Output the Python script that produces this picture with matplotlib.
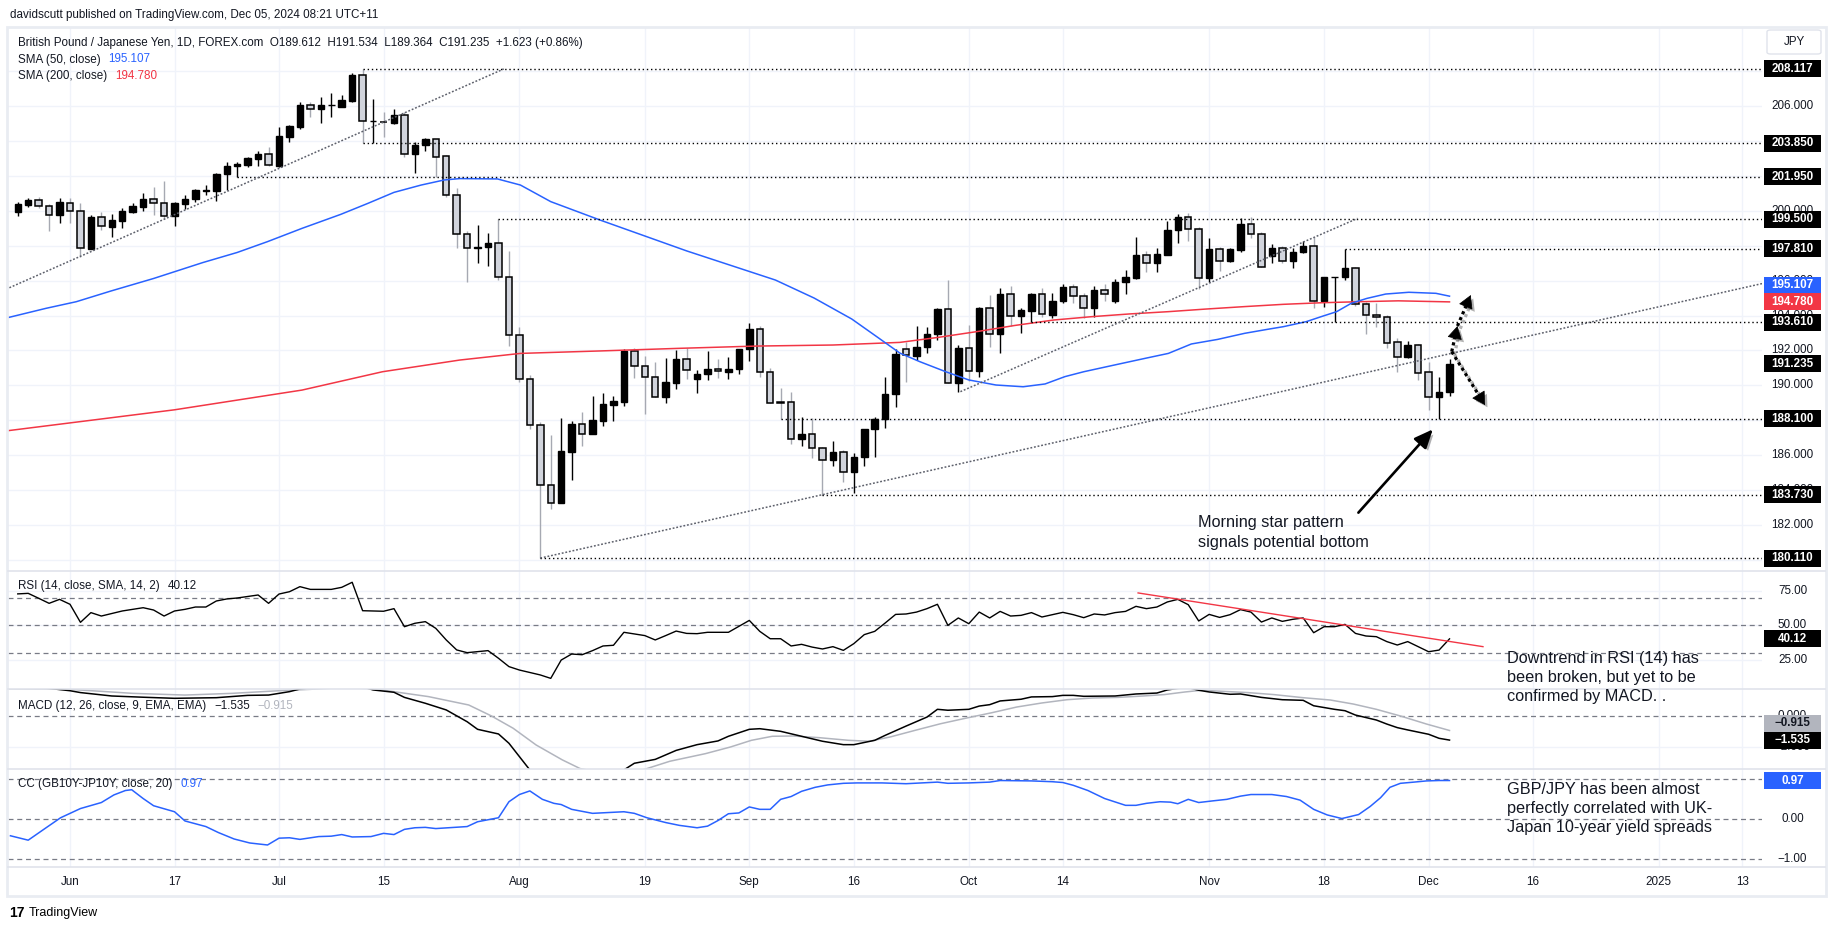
import numpy as np
import pandas as pd
import matplotlib
matplotlib.use("Agg")
import matplotlib.pyplot as plt
import matplotlib.patheffects as pe
from matplotlib.patches import Rectangle, FancyBboxPatch

plt.rcParams['font.family'] = ['Liberation Sans', 'DejaVu Sans']

# ---------------- data (GBP/JPY, 1D, FOREX.com) ----------------
start_date = "2024-05-27"

opens = [199.95, 200.35, 200.59, 200.27, 199.74, 200.46, 199.97, 197.83, 199.62, 199.09,
         199.43, 199.95, 200.23, 200.65, 200.42, 199.68, 200.40, 200.65, 201.15, 201.15,
         202.10, 202.54, 202.62, 202.98, 203.23, 202.56, 204.24, 204.81, 206.05, 205.81,
         206.05, 205.96, 206.30, 207.77, 205.12, 205.08, 205.04, 205.48, 203.23, 203.76,
         204.09, 203.12, 200.88, 198.65, 197.84, 197.90, 198.13, 196.18, 192.86, 190.34,
         187.71, 184.27, 183.24, 186.20, 187.77, 187.19, 187.97, 188.89, 189.06, 191.97,
         191.11, 190.50, 189.35, 190.15, 191.49, 190.34, 190.63, 190.92, 190.78, 190.92,
         192.06, 193.21, 190.78, 189.05, 189.06, 186.91, 187.19, 186.39, 185.70, 186.16,
         185.02, 185.88, 187.48, 188.05, 189.48, 192.06, 191.70, 192.18, 192.92, 194.35,
         190.11, 192.16, 190.82, 194.41, 192.92, 195.21, 193.97, 194.28, 195.23, 194.03,
         194.85, 195.61, 195.12, 194.41, 195.46, 194.81, 195.90, 196.13, 197.46, 197.03,
         197.46, 198.90, 199.62, 198.93, 196.13, 197.79, 197.12, 197.75, 199.22, 198.65,
         197.41, 197.85, 197.14, 197.62, 197.98, 194.85, 196.19, 196.19, 196.70, 194.66,
         194.03, 193.93, 192.46, 191.64, 192.31, 190.74, 189.35, 189.612]
highs = [200.52, 200.75, 200.80, 200.38, 200.75, 200.75, 200.46, 199.75, 199.95, 199.83,
         200.14, 200.42, 201.00, 201.38, 201.70, 200.52, 200.90, 201.22, 201.45, 202.18,
         202.77, 202.79, 203.10, 203.44, 203.63, 204.81, 204.91, 206.23, 206.25, 206.53,
         206.72, 206.63, 207.87, 208.117, 206.40, 205.67, 205.83, 205.67, 203.95, 204.15,
         204.09, 203.19, 201.28, 198.86, 199.18, 198.70, 199.50, 197.71, 193.36, 190.59,
         187.92, 187.16, 188.14, 187.96, 188.45, 189.39, 189.58, 189.39, 192.08, 192.12,
         191.68, 191.32, 191.55, 192.02, 192.12, 190.88, 191.97, 191.49, 191.60, 192.06,
         193.55, 193.40, 190.97, 189.87, 189.60, 188.17, 188.15, 186.49, 186.81, 186.29,
         186.11, 187.48, 188.20, 190.46, 192.06, 192.50, 193.40, 193.36, 194.45, 196.03,
         192.31, 193.45, 194.50, 195.19, 195.56, 195.69, 194.41, 195.31, 195.56, 195.31,
         195.80, 195.80, 195.31, 195.69, 195.80, 196.09, 196.61, 198.48, 197.69, 197.89,
         199.41, 199.79, 199.85, 199.09, 198.42, 197.94, 197.85, 199.56, 199.66, 198.80,
         198.09, 197.98, 197.85, 198.29, 198.48, 196.22, 196.22, 197.81, 196.76, 194.79,
         194.70, 194.03, 192.69, 192.54, 192.35, 191.36, 190.50, 191.534]
lows = [199.72, 200.23, 200.14, 198.86, 199.32, 199.32, 197.37, 197.79, 198.90, 198.48,
        199.03, 199.85, 200.00, 199.76, 199.51, 199.14, 200.08, 200.52, 200.90, 200.58,
        201.19, 201.95, 202.52, 202.56, 202.56, 202.52, 203.96, 204.68, 205.39, 205.04,
        205.39, 205.92, 206.25, 203.85, 203.90, 204.24, 204.95, 203.10, 202.14, 203.44,
        201.95, 200.80, 197.88, 195.94, 197.02, 196.85, 196.03, 192.27, 190.21, 187.48,
        180.11, 182.94, 183.24, 184.58, 186.54, 187.19, 187.69, 187.97, 188.84, 190.44,
        188.34, 189.35, 189.01, 189.77, 190.36, 189.58, 190.30, 190.40, 190.34, 190.63,
        191.41, 190.46, 189.01, 188.10, 186.64, 186.54, 185.82, 183.73, 185.40, 184.48,
        183.81, 185.40, 185.91, 187.54, 188.78, 190.21, 191.45, 191.87, 192.60, 190.11,
        189.64, 190.25, 190.50, 192.21, 191.83, 193.40, 192.98, 193.61, 193.93, 193.88,
        194.73, 194.73, 193.84, 193.93, 194.85, 194.70, 195.23, 196.09, 196.51, 196.51,
        197.46, 198.13, 198.27, 195.50, 195.94, 196.57, 197.08, 197.66, 198.42, 196.76,
        197.03, 197.03, 196.74, 197.56, 194.41, 194.51, 193.61, 196.03, 194.54, 192.94,
        193.36, 192.12, 190.78, 191.55, 190.31, 188.59, 188.10, 189.364]
closes = [200.39, 200.61, 200.25, 199.74, 200.50, 199.97, 197.84, 199.64, 199.11, 199.45,
          199.97, 200.27, 200.65, 200.42, 199.68, 200.46, 200.65, 201.19, 201.19, 202.10,
          202.56, 202.66, 203.00, 203.25, 202.60, 204.28, 204.85, 206.05, 205.81, 206.05,
          206.07, 206.34, 207.77, 205.12, 205.14, 205.06, 205.48, 203.23, 203.76, 204.09,
          203.10, 200.88, 198.65, 197.84, 197.90, 198.17, 196.18, 192.86, 190.34, 187.71,
          184.27, 183.24, 186.24, 187.78, 187.19, 188.01, 188.93, 189.10, 191.97, 191.11,
          190.50, 189.35, 190.19, 191.49, 190.88, 190.63, 190.92, 190.80, 190.92, 192.06,
          193.21, 190.78, 189.01, 189.01, 186.91, 187.21, 186.39, 185.70, 186.16, 185.02,
          185.88, 187.48, 188.05, 189.48, 191.77, 191.74, 192.18, 192.92, 194.38, 190.11,
          192.16, 190.80, 194.43, 192.92, 195.21, 193.95, 194.31, 195.22, 194.10, 194.85,
          195.61, 195.12, 194.41, 195.46, 195.21, 195.94, 196.22, 197.46, 197.03, 197.52,
          198.90, 199.62, 198.93, 196.13, 197.79, 197.14, 197.79, 199.22, 198.65, 196.80,
          197.85, 197.14, 197.62, 197.98, 194.85, 196.19, 196.22, 196.70, 194.66, 194.01,
          193.89, 192.44, 191.64, 192.31, 190.69, 189.35, 189.612, 191.235]

sma50_day = [-1, 2.7, 5.6, 8.9, 13, 17.7, 21, 23.9, 27.2, 30.9, 33.5, 36, 38.6, 40.8, 42.3, 45.9,
             48.1, 51, 55.7, 64, 72.5, 76.2, 79.8, 82.4, 84.4, 86.3, 88.8, 91, 93.6, 96.2, 98.3,
             100.2, 102, 104.9, 107.9, 110.1, 112.3, 114.8, 117.4, 119.6, 121.1, 123.3, 124.7,
             126.2, 127.6, 129.1, 130.9, 133.1, 135.7, 137]
sma50_val = [193.87, 194.41, 194.79, 195.40, 196.12, 197.03, 197.61, 198.23, 198.99, 199.79,
             200.42, 201.05, 201.47, 201.76, 201.84, 201.82, 201.47, 200.52, 199.47, 197.7,
             196.03, 195.0, 193.8, 192.7, 191.85, 191.36, 190.78, 190.31, 190.02, 189.92, 190.08,
             190.50, 190.78, 191.16, 191.55, 191.83, 192.37, 192.63, 192.98, 193.21, 193.36,
             193.65, 193.93, 194.22, 194.70, 194.98, 195.23, 195.33, 195.27, 195.107]
sma200_day = [-1, 15, 27.2, 34.9, 42.3, 48.1, 55.7, 63.3, 70.7, 78, 84.4, 88.1, 91.8, 95.4, 99.1,
              102.7, 106.4, 110.1, 113.7, 117.4, 121.1, 124.7, 128.4, 132.1, 137]
sma200_val = [187.4, 188.6, 189.73, 190.78, 191.45, 191.83, 191.97, 192.12, 192.25, 192.31,
              192.46, 192.75, 193.08, 193.43, 193.74, 193.93, 194.09, 194.22, 194.37, 194.51,
              194.64, 194.73, 194.79, 194.84, 194.78]

rsi_day = [0, 1, 2, 3, 4, 5, 6, 7, 8, 10, 12, 13, 14, 15, 16, 17, 18, 19, 20, 21, 23, 24, 25, 26,
           27, 28, 30, 31, 32, 33, 35, 36, 37, 38, 39, 40, 41, 42, 43, 45, 46, 47, 48, 50, 51, 52,
           53, 54, 55, 56, 57, 58, 60, 61, 62, 63, 64, 65, 66, 68, 70, 71, 72, 73, 74, 75, 76, 77,
           78, 79, 80, 81, 82, 83, 84, 85, 86, 87, 88, 89, 90, 91, 92, 93, 94, 95, 96, 97, 98, 99,
           100, 101, 102, 103, 104, 105, 106, 107, 108, 109, 110, 111, 112, 113, 114, 115, 116,
           117, 118, 119, 120, 121, 122, 123, 124, 125, 126, 127, 128, 129, 130, 131, 132, 133,
           134, 135, 136, 137]
rsi_val = [73.0, 73.4, 69.8, 66.1, 69.0, 65.4, 52.2, 59.3, 56.8, 60.5, 62.9, 61.2, 56.8, 60.5,
           61.7, 63.4, 63.4, 67.8, 69.3, 70.0, 72.2, 66.1, 72.9, 74.6, 78.3, 76.3, 76.3, 77.8,
           81.5, 60.7, 60.3, 62.2, 49.0, 51.5, 52.7, 47.8, 39.3, 32.0, 30.0, 31.5, 25.9, 19.8,
           17.3, 13.7, 11.2, 24.6, 29.0, 28.5, 31.5, 34.9, 35.4, 44.9, 42.5, 39.3, 42.5, 45.8,
           44.1, 43.9, 44.9, 44.9, 53.6, 45.6, 40.2, 40.2, 34.9, 36.1, 34.1, 32.7, 34.4, 31.7,
           36.6, 43.2, 45.6, 51.7, 58.0, 58.3, 59.7, 62.2, 65.4, 50.0, 55.4, 51.2, 59.7, 55.4,
           60.2, 56.8, 57.3, 59.3, 56.1, 57.8, 59.5, 57.8, 55.6, 58.3, 57.6, 59.3, 60.2, 63.9,
           62.2, 63.4, 67.1, 69.0, 65.1, 53.2, 58.0, 55.8, 57.8, 61.5, 59.7, 52.4, 55.4, 52.9,
           54.4, 55.4, 44.6, 49.0, 49.0, 50.7, 44.1, 42.2, 41.7, 38.1, 35.6, 38.1, 34.4, 30.7,
           31.9, 40.12]
rsi_trend_day = [107.2, 140.2]
rsi_trend_val = [73.7, 34.4]

macd_day = [-1, 3, 5, 6, 9, 12, 15, 19, 22, 24, 26, 27, 30, 32, 34, 36, 37, 39, 41, 43, 44, 46,
            47, 48, 49, 51, 54, 56, 58, 59, 61, 63, 65, 67, 68, 70, 71, 73, 75, 77, 79, 80, 82,
            83, 85, 87, 88, 89, 91, 92, 93, 94, 96, 97, 99, 100, 101, 102, 105, 107, 109, 110,
            111, 112, 113, 114, 116, 117, 119, 121, 123, 124, 126, 127, 128, 130, 131, 132, 133,
            135, 136, 137]
macd_val = [1.95, 1.80, 1.65, 1.53, 1.31, 1.23, 1.16, 1.20, 1.35, 1.37, 1.59, 1.76, 2.0, 2.1,
            1.70, 1.55, 1.22, 0.84, 0.41, -0.35, -0.84, -1.14, -1.74, -2.60, -3.46, -4.3, -4.2,
            -3.8, -3.46, -3.03, -2.78, -2.2, -1.83, -1.59, -1.29, -0.84, -0.80, -0.97, -1.29,
            -1.61, -1.83, -1.83, -1.55, -1.23, -0.63, -0.05, 0.45, 0.39, 0.45, 0.66, 0.75, 0.99,
            1.10, 1.25, 1.27, 1.35, 1.35, 1.29, 1.31, 1.44, 1.50, 1.70, 1.80, 1.85, 1.68, 1.57,
            1.42, 1.44, 1.22, 1.07, 1.03, 0.68, 0.45, 0.36, 0.08, -0.24, -0.50, -0.73, -0.88,
            -1.16, -1.42, -1.535]
signal_day = [-1, 2.6, 5, 11, 16, 20.5, 25, 28, 31, 34, 36.7, 39.3, 43.15, 45.3, 47.4, 49.6,
              52.1, 53.8, 57, 59.8, 62.4, 65.8, 68.2, 70.2, 72.2, 74.2, 76.7, 79.5, 81.5, 83.5,
              85.9, 88.3, 90.8, 93.2, 95.6, 98, 100.4, 102.8, 105.3, 107.7, 109.7, 111.7, 113.3,
              115.3, 117.7, 120.2, 123, 125.6, 127.8, 130, 132.3, 134.8, 137]
signal_val = [1.78, 1.76, 1.74, 1.48, 1.37, 1.48, 1.65, 1.74, 1.85, 1.78, 1.52, 1.27, 0.73,
              0.03, -0.77, -1.85, -2.81, -3.37, -3.8, -3.46, -2.9, -2.41, -1.98, -1.55, -1.29,
              -1.27, -1.38, -1.55, -1.61, -1.33, -0.90, -0.48, -0.11, 0.23, 0.60, 0.86, 1.07,
              1.18, 1.22, 1.31, 1.40, 1.57, 1.68, 1.61, 1.53, 1.40, 1.20, 1.05, 0.79, 0.45, 0.02,
              -0.50, -0.915]

cc_day = [-0.7, 1, 2.6, 4.1, 6, 8, 9.2, 10.3, 10.9, 12, 13, 15, 16, 18, 19.2, 20.7, 22.2, 23.9,
          25, 26, 27, 28.8, 30, 31, 32, 33.8, 35, 36, 37, 38, 39, 40, 41.2, 43, 44, 46, 47, 48,
          49, 50.2, 51.3, 52, 53, 55, 58, 59, 60.2, 62, 63.3, 65, 66, 67, 68, 69, 70, 71, 72,
          73, 74, 75, 76.3, 77.5, 79, 80.3, 82.7, 85, 88, 89, 91, 93, 94, 97, 99, 100, 101,
          102.4, 104, 106, 107, 108, 109.3, 110.3, 111, 112, 113, 114.3, 115.7, 117, 118, 120,
          121.4, 122.7, 124, 125.3, 126.7, 128.3, 129.4, 130.4, 131.3, 132.3, 133.6, 134.8,
          136, 137]
cc_val = [-0.41, -0.52, -0.23, 0.04, 0.27, 0.42, 0.61, 0.72, 0.74, 0.52, 0.34, 0.19, -0.04,
          -0.18, -0.33, -0.49, -0.59, -0.64, -0.47, -0.46, -0.50, -0.43, -0.42, -0.38, -0.44,
          -0.43, -0.35, -0.38, -0.25, -0.21, -0.20, -0.23, -0.21, -0.18, -0.06, 0.04, 0.44,
          0.62, 0.71, 0.50, 0.40, 0.37, 0.25, 0.15, 0.19, 0.15, 0.04, -0.08, -0.15, -0.21,
          -0.17, -0.03, 0.14, 0.16, 0.31, 0.25, 0.25, 0.50, 0.57, 0.70, 0.80, 0.86, 0.90, 0.91,
          0.91, 0.89, 0.93, 0.90, 0.91, 0.93, 0.97, 0.96, 0.94, 0.92, 0.85, 0.72, 0.52, 0.35,
          0.35, 0.40, 0.44, 0.43, 0.39, 0.50, 0.42, 0.46, 0.50, 0.58, 0.62, 0.62, 0.57, 0.48,
          0.25, 0.11, 0.02, 0.12, 0.32, 0.54, 0.80, 0.90, 0.93, 0.96, 0.97, 0.97]

# horizontal support / resistance levels: (start day, price)
level_day = [33, 33, 21, 46, 127, 97, 73, 77, 50]
level_price = [208.117, 203.85, 201.95, 199.5, 197.81, 193.61, 188.1, 183.73, 180.11]

# trend lines
trend_days = [(-0.8, 46.5), (50, 167), (90.2, 128.2)]
trend_prices = [(195.59, 208.117), (180.11, 195.84), (189.64, 199.56)]

tick_dates = ['2024-06-03', '2024-06-17', '2024-07-01', '2024-07-15', '2024-08-01', '2024-08-19',
              '2024-09-02', '2024-09-16', '2024-10-01', '2024-10-14', '2024-11-01', '2024-11-18',
              '2024-12-02', '2024-12-16', '2025-01-01', '2025-01-13']
tick_labels = ['Jun', '17', 'Jul', '15', 'Aug', '19', 'Sep', '16', 'Oct', '14', 'Nov', '18',
               'Dec', '16', '2025', '13']

# ---------------- layout ----------------
W, H = 1835, 931
L, R = 8, 1762
XL = (-0.933, 166.9)
MAIN = (27, 571, 179.37, 210.52)
RSI = (571, 689, 3.42, 89.75)
MACD = (689, 768.7, -3.381, 1.761)
CC = (768.7, 867, -1.19, 1.265)
TXT = '#131722'
GRID = '#f0f3fa'
DASH = '#787b86'

fig = plt.figure(figsize=(W / 100, H / 100), dpi=100)
fig.patch.set_facecolor('white')
renderer = fig.canvas.get_renderer()

dates = pd.bdate_range(start_date, periods=180)
tick_pos = [dates.get_loc(pd.Timestamp(t)) for t in tick_dates]


def pane(p):
    top, bot, lo, hi = p
    ax = fig.add_axes([L / W, 1 - bot / H, (R - L) / W, (bot - top) / H])
    ax.set_xlim(XL)
    ax.set_ylim(lo, hi)
    ax.axis('off')
    for t in tick_pos:
        ax.axvline(t, color=GRID, lw=1, zorder=0)
    return ax


def ypx(p, v):
    top, bot, lo, hi = p
    return top + (hi - v) / (hi - lo) * (bot - top)


def ftext(x, y, s, **kw):
    kw.setdefault('color', TXT)
    kw.setdefault('fontsize', 8.4)
    kw.setdefault('va', 'center')
    return fig.text(x / W, 1 - y / H, s, **kw)


def legend_row(x, y, parts, gap=8):
    # parts: list of (text, colour); each placed right after the previous one
    for s, col in parts:
        t = ftext(x, y, s, color=col)
        x += t.get_window_extent(renderer).width + gap


def tag(p, v, s, fc='black', tc='white', shift=0):
    y = ypx(p, v) + shift
    fig.add_artist(Rectangle((1764 / W, 1 - (y + 8.5) / H), 57 / W, 17 / H,
                             transform=fig.transFigure, facecolor=fc, edgecolor='none', zorder=10))
    ftext(1792.5, y, s, color=tc, fontweight='bold', ha='center', zorder=11)


def tick(p, v, s):
    ftext(1792.5, ypx(p, v), s, ha='center', zorder=5)


# ---------------- main price pane ----------------
ax = pane(MAIN)
for g in range(180, 210, 2):
    ax.axhline(g, color=GRID, lw=1, zorder=0)

o, h, l, c = map(np.array, (opens, highs, lows, closes))
x = np.arange(len(o))
up = c >= o
lo_b = np.minimum(o, c)
hb = np.maximum(np.abs(c - o), 0.015)
ax.vlines(x[up], l[up], h[up], color='black', lw=1, zorder=2)
ax.vlines(x[~up], l[~up], h[~up], color='#a6a9b2', lw=1, zorder=2)
ax.bar(x[up], hb[up], 0.62, lo_b[up], color='black', edgecolor='black', lw=1, zorder=3)
ax.bar(x[~up], hb[~up], 0.62, lo_b[~up], color='#d1d4dc', edgecolor='black', lw=1.1, zorder=3)

ax.plot(sma200_day, sma200_val, color='#f23645', lw=1.1, zorder=4)
ax.plot(sma50_day, sma50_val, color='#2962ff', lw=1.1, zorder=4)

for d0, pr in zip(level_day, level_price):
    ax.hlines(pr, d0, XL[1], colors='black', linestyles=(0, (1, 2)), lw=1, zorder=4)
for (d0, d1), (p0, p1) in zip(trend_days, trend_prices):
    ax.plot([d0, d1], [p0, p1], color='#5d606b', ls=(0, (1.2, 1.2)), lw=1.1, zorder=4)

shadow_l = [pe.SimpleLineShadow(offset=(2, -2), alpha=0.3), pe.Normal()]
shadow_p = [pe.withSimplePatchShadow(offset=(2, -2), alpha=0.3)]


def dotted_arrow(x0, y0, x1, y1):
    xm, ym = x0 + (x1 - x0) * 0.8, y0 + (y1 - y0) * 0.8
    ax.plot([x0, xm], [y0, ym], color='black', lw=2.3, ls=(0, (1, 1)), zorder=6,
            path_effects=shadow_l)
    ax.annotate('', xy=(x1, y1), xytext=(xm, ym),
                arrowprops=dict(arrowstyle='-|>,head_length=0.7,head_width=0.4', color='black',
                                lw=0.5, shrinkA=0, shrinkB=0, mutation_scale=12,
                                path_effects=shadow_p), zorder=6)


dotted_arrow(137.21, 191.93, 137.76, 193.40)
dotted_arrow(137.76, 193.40, 139.03, 195.17)
dotted_arrow(137.21, 191.93, 140.40, 188.87)
ax.annotate('', xy=(135.4, 187.48), xytext=(128.28, 182.71),
            arrowprops=dict(arrowstyle='-|>,head_length=0.8,head_width=0.35', color='black',
                            lw=1.9, shrinkA=0, shrinkB=0, mutation_scale=14,
                            path_effects=shadow_p), zorder=6)

# ---------------- RSI pane ----------------
ax2 = pane(RSI)
for g in (25, 50, 75):
    ax2.axhline(g, color=GRID, lw=1, zorder=0)
for g in (70, 50, 30):
    ax2.axhline(g, color=DASH, lw=0.9, ls=(0, (4, 3)), zorder=1)
ax2.plot(rsi_day, rsi_val, color='black', lw=1, zorder=3)
ax2.plot(rsi_trend_day, rsi_trend_val, color='#f23645', lw=1, zorder=4)

# ---------------- MACD pane ----------------
ax3 = pane(MACD)
ax3.axhline(-2, color=GRID, lw=1, zorder=0)
ax3.axhline(0, color=DASH, lw=0.9, ls=(0, (4, 3)), zorder=1)
ax3.plot(signal_day, signal_val, color='#b2b5be', lw=1.1, zorder=3)
ax3.plot(macd_day, macd_val, color='black', lw=1.1, zorder=4)

# ---------------- CC pane ----------------
ax4 = pane(CC)
for g in (1, 0, -1):
    ax4.axhline(g, color=DASH, lw=0.9, ls=(0, (4, 3)), zorder=1)
ax4.plot(cc_day, cc_val, color='#2962ff', lw=1.1, zorder=3)

# ---------------- frame, separators ----------------
fig.add_artist(Rectangle((7 / W, 1 - 896 / H), 1819 / W, 869 / H, transform=fig.transFigure,
                         facecolor='none', edgecolor='#e9ecf2', lw=2, zorder=1))
for yy in (571, 689, 768.7, 867):
    fig.add_artist(plt.Line2D([8 / W, 1825 / W], [1 - yy / H] * 2, color='#e0e3eb', lw=1.2,
                              zorder=1))

# ---------------- price scales ----------------
for g in range(180, 210, 2):
    tick(MAIN, g, f'{g:.3f}')
for v, s in [(208.117, '208.117'), (203.85, '203.850'), (201.95, '201.950'), (199.5, '199.500'),
             (197.81, '197.810'), (193.61, '193.610'), (191.235, '191.235'), (188.1, '188.100'),
             (183.73, '183.730'), (180.11, '180.110')]:
    tag(MAIN, v, s)
tag(MAIN, 195.107, '195.107', fc='#2962ff', shift=-11)
tag(MAIN, 194.78, '194.780', fc='#f23645')

for g in (75, 50, 25):
    tick(RSI, g, f'{g:.2f}')
tag(RSI, 40.12, '40.12')

tick(MACD, 0, '0.000')
tick(MACD, -2, '\u22122.000')
tag(MACD, -0.915, '\u22120.915', fc='#b2b5be', tc=TXT, shift=-7.4)
tag(MACD, -1.535, '\u22121.535')

tick(CC, 0, '0.00')
tick(CC, -1, '\u22121.00')
tag(CC, 0.97, '0.97', fc='#2962ff')

fig.add_artist(FancyBboxPatch((1767 / W, 1 - 54 / H), 54 / W, 24 / H,
                              boxstyle='round,pad=0,rounding_size=0.002',
                              transform=fig.transFigure, facecolor='white',
                              edgecolor='#e0e3eb', lw=1, zorder=6))
ftext(1794, 42, 'JPY', ha='center', zorder=7)

# ---------------- time axis ----------------
for t, s in zip(tick_pos, tick_labels):
    xp = L + (t - XL[0]) / (XL[1] - XL[0]) * (R - L)
    ftext(xp, 882, s, ha='center')

# ---------------- legends / header ----------------
ftext(10, 15, 'davidscutt published on TradingView.com, Dec 05, 2024 08:21 UTC+11')
ftext(18, 43, 'British Pound / Japanese Yen, 1D, FOREX.com  O189.612  H191.534  L189.364  '
              'C191.235  +1.623 (+0.86%)')
legend_row(18, 59.5, [('SMA (50, close)', TXT), ('195.107', '#2962ff')])
legend_row(18, 76, [('SMA (200, close)', TXT), ('194.780', '#f23645')])
legend_row(18, 586, [('RSI (14, close, SMA, 14, 2)', TXT), ('40.12', TXT)])
legend_row(18, 706, [('MACD (12, 26, close, 9, EMA, EMA)', TXT), ('\u22121.535', TXT),
                     ('\u22120.915', '#b2b5be')])
legend_row(18, 784, [('CC (GB10Y-JP10Y, close, 20)', TXT), ('0.97', '#2962ff')])

# ---------------- annotations ----------------
for yy, s in zip((523, 542), ('Morning star pattern', 'signals potential bottom')):
    ftext(1198, yy, s, fontsize=11.7, zorder=8)
for yy, s in zip((658.3, 677.3, 696.7),
                 ('Downtrend in RSI (14) has', 'been broken, but yet to be',
                  'confirmed by MACD. .')):
    ftext(1506.7, yy, s, fontsize=11.7, zorder=8)
for yy, s in zip((789.3, 808.3, 827.7),
                 ('GBP/JPY has been almost', 'perfectly correlated with UK-',
                  'Japan 10-year yield spreads')):
    ftext(1506.7, yy, s, fontsize=11.7, zorder=8)

# ---------------- footer logo ----------------
ftext(9, 913, '17', fontsize=10, fontweight='bold', color='black')
ftext(29, 913, 'TradingView', fontsize=9, color='black')

fig.savefig('out.png', dpi=100, facecolor='white')
